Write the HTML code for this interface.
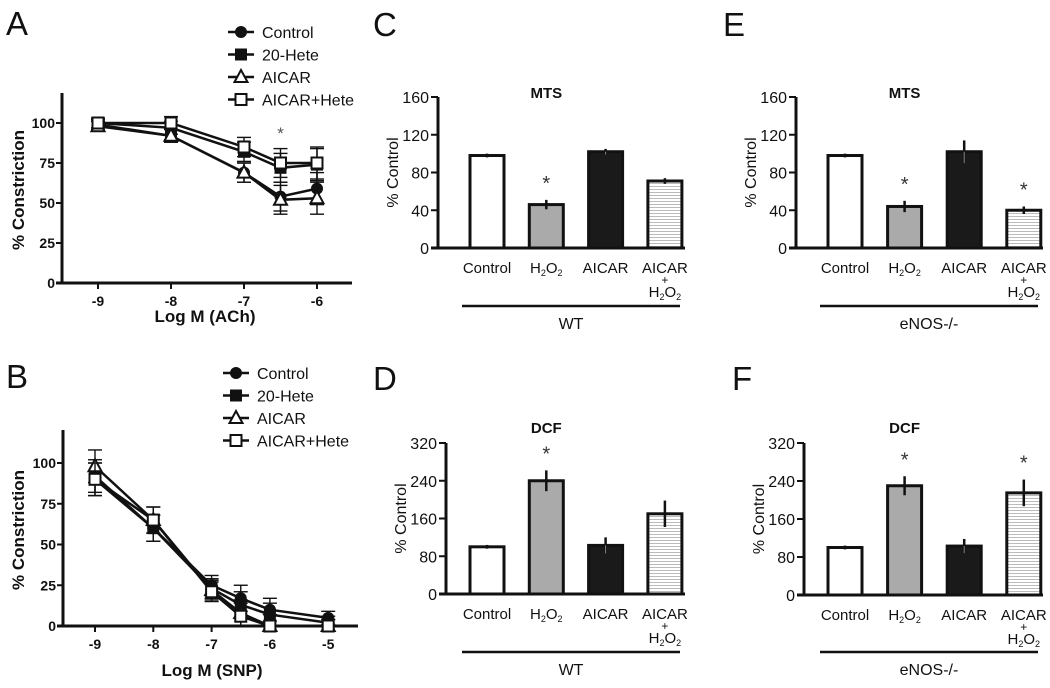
<!DOCTYPE html>
<html><head><meta charset="utf-8">
<style>
html,body{margin:0;padding:0;background:#fff;}
svg{display:block;font-family:"Liberation Sans",Arial,sans-serif;}
</style></head>
<body>
<svg id="fig" width="1050" height="688" viewBox="0 0 1050 688" xmlns="http://www.w3.org/2000/svg">
<defs>
<pattern id="hatch" width="4" height="3" patternUnits="userSpaceOnUse">
<rect width="4" height="3" fill="#fff"/><rect y="0" width="4" height="1" fill="#bbb"/>
</pattern>
</defs>
</svg>
<script>
// ---------- Data ----------
const doseA = [-9, -8, -7, -6.5, -6];
const ctrlA = [99, 92, 69, 54, 59];
const heteA = [100, 97, 82, 72, 74];
const aicarA = [98, 92, 69, 52, 53];
const aicarHeteA = [100, 100, 85, 75, 75];
const errA = [3, 4, 6, 9, 10];
const xTicksA = [-9, -8, -7, -6];

const doseB = [-9, -8, -7, -6.5, -6, -5];
const ctrlB = [90, 60, 25, 17, 10, 5];
const heteB = [92, 60, 23, 13, 7, 2];
const aicarB = [98, 65, 22, 8, 0, 0];
const aicarHeteB = [90, 65, 21, 6, 0, 0];
const errB = [10, 8, 6, 8, 7, 4];
const xTicksB = [-9, -8, -7, -6, -5];
const yTicksAB = [0, 25, 50, 75, 100];
const seriesNames = ["Control", "20-Hete", "AICAR", "AICAR+Hete"];

const barCats = ["Control", "H2O2", "AICAR", "AICAR+H2O2"];
const mtsWT = [98, 46, 102, 71];
const mtsWTErr = [2, 5, 3, 3];
const mtsKO = [98, 44, 102, 40];
const mtsKOErr = [2, 6, 12, 4];
const dcfWT = [100, 240, 103, 170];
const dcfWTErr = [4, 22, 17, 28];
const dcfKO = [100, 230, 103, 215];
const dcfKOErr = [4, 20, 15, 28];
const mtsTicks = [0, 40, 80, 120, 160];
const dcfTicks = [0, 80, 160, 240, 320];

// ---------- helpers ----------
const NS = "http://www.w3.org/2000/svg";
const svg = document.getElementById("fig");
function mk(tag, attrs, parent, text) {
  const e = document.createElementNS(NS, tag);
  for (const k in attrs) e.setAttribute(k, attrs[k]);
  if (text !== undefined) e.textContent = text;
  (parent || svg).appendChild(e);
  return e;
}
function grp(name) {
  const g = mk("g", {});
  
  
  return g;
}
function label(g, x, y, txt, size, extra, name) {
  const t = mk("text", Object.assign({x: x, y: y, "font-size": size, fill: "#111"}, extra || {}), g, txt);
  
  
  return t;
}
function marker(g, type, x, y) {
  let e;
  if (type === 0) e = mk("circle", {cx: x, cy: y, r: 6, fill: "#111"}, g);
  else if (type === 1) e = mk("rect", {x: x - 6, y: y - 6, width: 12, height: 12, fill: "#111"}, g);
  else if (type === 2) e = mk("path", {d: `M${x} ${y-7} L${x+6.5} ${y+5} L${x-6.5} ${y+5} Z`, fill: "#fff", stroke: "#111", "stroke-width": 2}, g);
  else e = mk("rect", {x: x - 5.5, y: y - 5.5, width: 11, height: 11, fill: "#fff", stroke: "#111", "stroke-width": 2}, g);
  
  
  return e;
}

// ---------- line chart ----------
function lineChart(cfg) {
  const g = grp(cfg.name);
  const X = v => cfg.x0 + (v - cfg.xmin) * cfg.xs;
  const Y = v => cfg.y0 - v * cfg.ys;
  mk("line", {x1: cfg.ax, y1: cfg.axTop, x2: cfg.ax, y2: cfg.y0 + 1.5, stroke: "#111", "stroke-width": 3}, g);
  mk("line", {x1: cfg.ax - 6, y1: cfg.y0, x2: cfg.axRight, y2: cfg.y0, stroke: "#111", "stroke-width": 3}, g);
  yTicksAB.forEach(v => {
    mk("line", {x1: cfg.ax - 6, y1: Y(v), x2: cfg.ax, y2: Y(v), stroke: "#111", "stroke-width": 2}, g);
    label(g, cfg.ax - 7, Y(v) + 5, String(v), 14, {"text-anchor": "end", "font-weight": "bold"}, "y-tick-label");
  });
  cfg.xticks.forEach(v => {
    mk("line", {x1: X(v), y1: cfg.y0, x2: X(v), y2: cfg.y0 + 6, stroke: "#111", "stroke-width": 2}, g);
    label(g, X(v), cfg.y0 + 23, String(v), 14, {"text-anchor": "middle", "font-weight": "bold"}, "x-tick-label");
  });
  label(g, cfg.xlabX, cfg.xlabY, cfg.xlab, 17, {"text-anchor": "middle", "font-weight": "bold"}, "x-axis-title");
  label(g, 0, 0, "% Constriction", 17, {"text-anchor": "middle", "font-weight": "bold", transform: `translate(${cfg.ylabX},${cfg.ylabY}) rotate(-90)`}, "y-axis-title");
  cfg.series.forEach((s, si) => {
    const sg = grp("series-" + seriesNames[si].toLowerCase().replace(/[^a-z0-9]+/g, "-"));
    g.appendChild(sg);
    const pts = cfg.dose.map((d, i) => X(d) + "," + Y(s[i])).join(" ");
    mk("polyline", {points: pts, fill: "none", stroke: "#111", "stroke-width": 2.5}, sg);
    cfg.dose.forEach((d, i) => {
      const e = cfg.err[i];
      mk("line", {x1: X(d), y1: Y(s[i] + e), x2: X(d), y2: Y(Math.max(0, s[i] - e)), stroke: "#111", "stroke-width": 1.4}, sg);
      mk("line", {x1: X(d) - 7, y1: Y(s[i] + e), x2: X(d) + 7, y2: Y(s[i] + e), stroke: "#111", "stroke-width": 1.4}, sg);
      mk("line", {x1: X(d) - 7, y1: Y(Math.max(0, s[i] - e)), x2: X(d) + 7, y2: Y(Math.max(0, s[i] - e)), stroke: "#111", "stroke-width": 1.4}, sg);
    });
    cfg.dose.forEach((d, i) => marker(sg, si, X(d), Y(s[i])));
  });
  const lg = grp("legend");
  g.appendChild(lg);
  seriesNames.forEach((n, i) => {
    const y = cfg.legY + i * 22.5;
    const eg = grp("legend-entry");
    lg.appendChild(eg);
    mk("line", {x1: cfg.legX - 13, y1: y, x2: cfg.legX + 13, y2: y, stroke: "#111", "stroke-width": 2.5}, eg);
    marker(eg, i, cfg.legX, y);
    label(eg, cfg.legX + 21, y + 6, n, 16, {}, "legend-label");
  });
  if (cfg.star) label(g, X(cfg.star[0]), Y(cfg.star[1]), "*", 17, {"text-anchor": "middle", fill: "#555"}, "significance-star");
}

lineChart({name: "panel-a-chart", dose: doseA, series: [ctrlA, heteA, aicarA, aicarHeteA], err: errA, xticks: xTicksA,
  ax: 62, axTop: 93, axRight: 352, y0: 283, ys: 1.6, x0: 98, xmin: -9, xs: 73,
  xlab: "Log M (ACh)", xlabX: 205, xlabY: 322, ylabX: 24, ylabY: 190, legX: 241, legY: 32, star: [-6.5, 90]});
lineChart({name: "panel-b-chart", dose: doseB, series: [ctrlB, heteB, aicarB, aicarHeteB], err: errB, xticks: xTicksB,
  ax: 63, axTop: 430, axRight: 358, y0: 626, ys: 1.63, x0: 95, xmin: -9, xs: 58.3,
  xlab: "Log M (SNP)", xlabX: 212, xlabY: 676, ylabX: 24, ylabY: 530, legX: 236, legY: 373});

// ---------- bar chart ----------
const fills = ["#fff", "#aaa", "#1a1a1a", "url(#hatch)"];
function h2o2(t) {
  t.innerHTML = 'H<tspan font-size="9" dy="3">2</tspan><tspan dy="-3">O</tspan><tspan font-size="9" dy="3">2</tspan>';
}
function barChart(cfg) {
  const g = grp(cfg.name);
  const Y = v => cfg.y0 - v * cfg.ys;
  const bx = i => cfg.b0 + i * cfg.step;
  const bw = 34;
  mk("line", {x1: cfg.ax, y1: Y(cfg.ticks[cfg.ticks.length - 1]), x2: cfg.ax, y2: cfg.y0 + 1.5, stroke: "#111", "stroke-width": 3}, g);
  mk("line", {x1: cfg.ax - 7, y1: cfg.y0, x2: cfg.axRight, y2: cfg.y0, stroke: "#111", "stroke-width": 3}, g);
  cfg.ticks.forEach(v => {
    mk("line", {x1: cfg.ax - 7, y1: Y(v), x2: cfg.ax, y2: Y(v), stroke: "#111", "stroke-width": 2}, g);
    label(g, cfg.ax - 9, Y(v) + 6, String(v), 16, {"text-anchor": "end"}, "y-tick-label");
  });
  label(g, 0, 0, "% Control", 16, {"text-anchor": "middle", transform: `translate(${cfg.ax - 40},${Y(cfg.ticks[2])}) rotate(-90)`}, "y-axis-title");
  label(g, bx(1) + bw / 2, cfg.titleY, cfg.title, 15, {"text-anchor": "middle", "font-weight": "bold"}, "chart-title");
  cfg.vals.forEach((v, i) => {
    const b = mk("rect", {x: bx(i), y: Y(v), width: bw, height: cfg.y0 - Y(v), fill: fills[i], stroke: "#111", "stroke-width": 3}, g);
    
    
    const e = cfg.errs[i], cx = bx(i) + bw / 2;
    const eb = mk("line", {x1: cx, y1: Y(v + e), x2: cx, y2: Y(v - e), stroke: "#111", "stroke-width": 2.5}, g);
    
    
    if (i === 2) mk("line", {x1: cx, y1: Y(v), x2: cx, y2: Y(v - e), stroke: "#888", "stroke-width": 1}, g);
    if (cfg.stars.indexOf(i) >= 0) label(g, cx, Y(v + e) - 10, "*", 20, {"text-anchor": "middle", fill: "#333"}, "significance-star");
  });
  const ly = cfg.y0 + 25;
  label(g, bx(0) + bw / 2, ly, "Control", 15, {"text-anchor": "middle"}, "x-category-label");
  h2o2(label(g, bx(1) + bw / 2, ly, "", 15, {"text-anchor": "middle"}, "x-category-label"));
  label(g, bx(2) + bw / 2, ly, "AICAR", 15, {"text-anchor": "middle"}, "x-category-label");
  label(g, bx(3) + bw / 2, ly, "AICAR", 15, {"text-anchor": "middle"}, "x-category-label");
  label(g, bx(3) + bw / 2, ly + 11, "+", 12, {"text-anchor": "middle"}, "x-category-label");
  h2o2(label(g, bx(3) + bw / 2, ly + 24, "", 15, {"text-anchor": "middle"}, "x-category-label"));
  mk("line", {x1: cfg.gx1, y1: cfg.gy, x2: cfg.gx2, y2: cfg.gy, stroke: "#111", "stroke-width": 2.5}, g);
  label(g, (cfg.gx1 + cfg.gx2) / 2, cfg.gy + 23, cfg.group, 16, {"text-anchor": "middle"}, "group-label");
}

barChart({name: "panel-c-chart", vals: mtsWT, errs: mtsWTErr, ticks: mtsTicks, ax: 438, axRight: 685, y0: 248, ys: 151 / 160,
  b0: 470, step: 59.3, title: "MTS", titleY: 98, stars: [1], gx1: 462, gx2: 680, gy: 306, group: "WT"});
barChart({name: "panel-e-chart", vals: mtsKO, errs: mtsKOErr, ticks: mtsTicks, ax: 796, axRight: 1043, y0: 248, ys: 151 / 160,
  b0: 828, step: 59.6, title: "MTS", titleY: 98, stars: [1, 3], gx1: 820, gx2: 1038, gy: 306, group: "eNOS-/-"});
barChart({name: "panel-d-chart", vals: dcfWT, errs: dcfWTErr, ticks: dcfTicks, ax: 446, axRight: 685, y0: 594, ys: 151 / 320,
  b0: 470, step: 59.3, title: "DCF", titleY: 433, stars: [1], gx1: 462, gx2: 680, gy: 652, group: "WT"});
barChart({name: "panel-f-chart", vals: dcfKO, errs: dcfKOErr, ticks: dcfTicks, ax: 804, axRight: 1043, y0: 595, ys: 152 / 320,
  b0: 828, step: 59.6, title: "DCF", titleY: 433, stars: [1, 3], gx1: 820, gx2: 1038, gy: 652, group: "eNOS-/-"});

// panel letters
const letters = [["A", 6, 35], ["B", 6, 388], ["C", 373, 36], ["D", 373, 390], ["E", 723, 36], ["F", 732, 390]];
letters.forEach(l => {
  const t = mk("text", {x: l[1], y: l[2], "font-size": 33, fill: "#111"}, svg, l[0]);
  
  
});
</script>
</body></html>
